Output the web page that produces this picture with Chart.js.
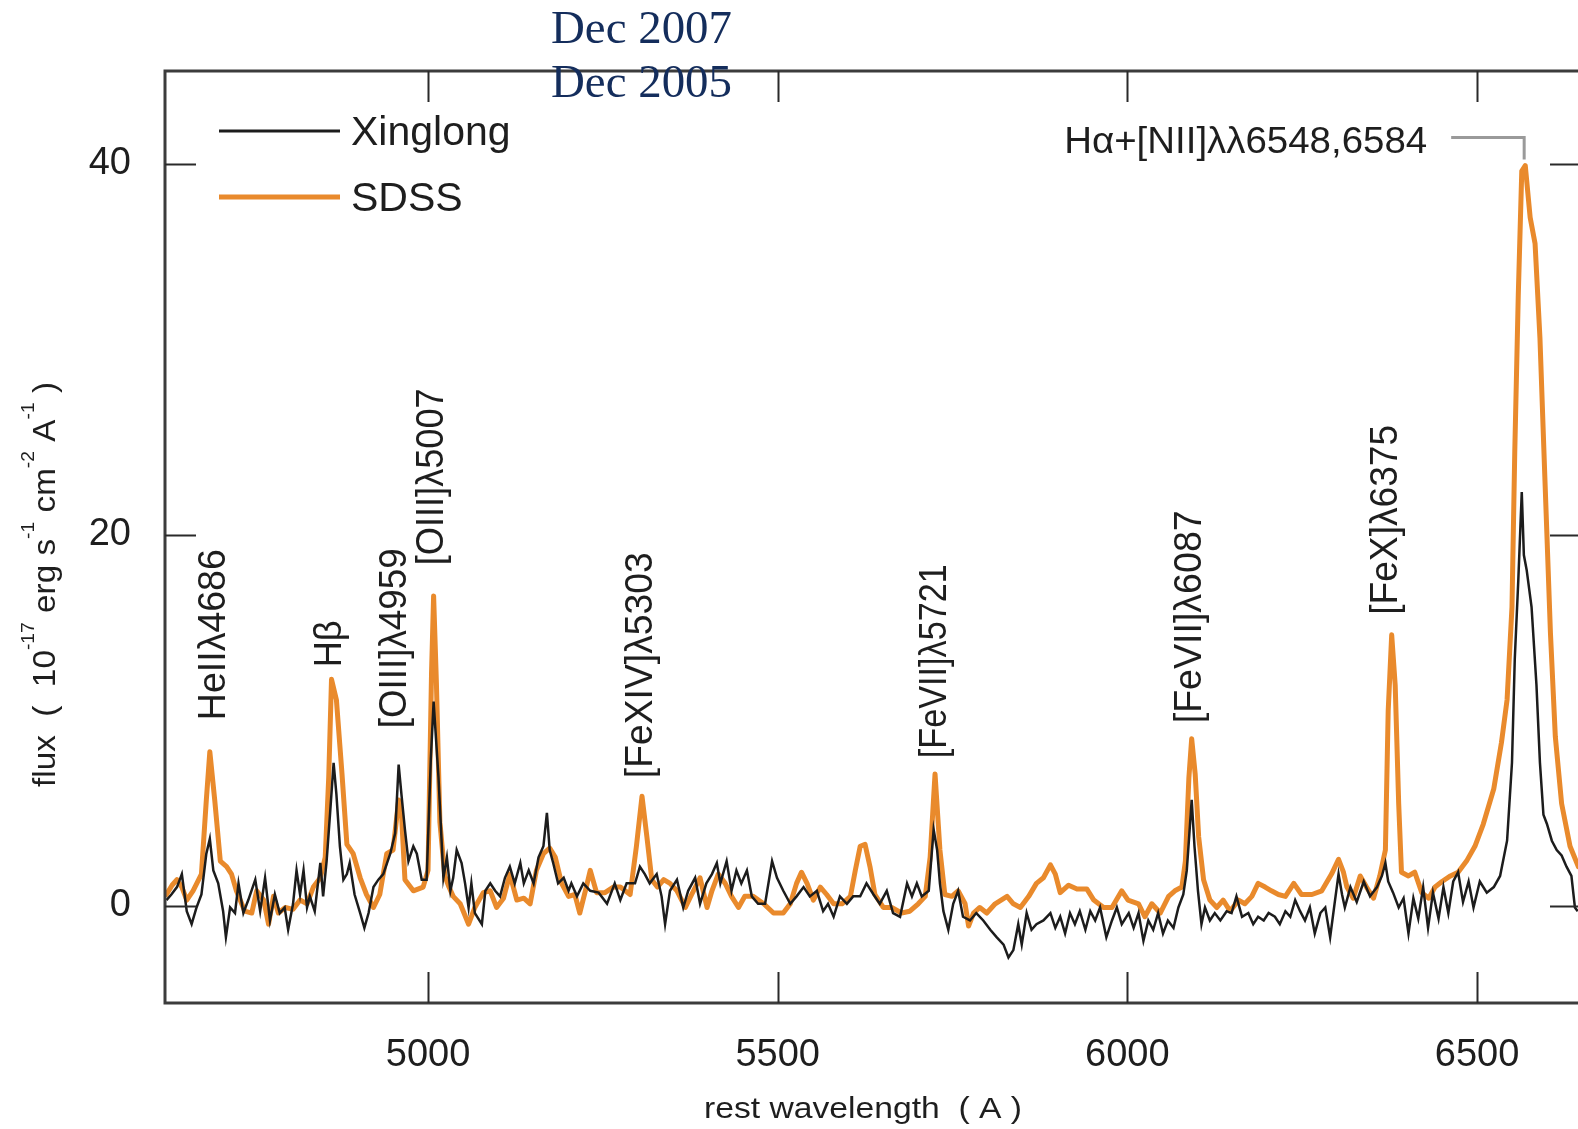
<!DOCTYPE html>
<html>
<head>
<meta charset="utf-8">
<script src="https://cdn.jsdelivr.net/npm/chart.js@4.4.1/dist/chart.umd.min.js"></script>
<style>
  html, body { margin: 0; padding: 0; overflow: hidden; background: #fff; }
  #wrap { position: absolute; left: 0; top: 0; width: 1600px; height: 1129px; }
</style>
</head>
<body>
<div id="wrap"><canvas id="spec" width="1600" height="1129"></canvas></div>
<script>
// ---- Spectra: rest wavelength (Å) and flux (1e-17 erg s^-1 cm^-2 Å^-1) ----
const sdssWave = [
  4626,4634,4641,4648,4655,4664,4676,4683,4688,4695,
  4703,4712,4719,4726,4738,4748,4755,4765,4772,4779,
  4786,4796,4807,4817,4827,4836,4846,4853,4858,4862,
  4869,4877,4884,4893,4903,4912,4922,4931,4941,4950,
  4958,4962,4967,4979,4993,5000,5005,5008,5012,5017,
  5024,5030,5036,5046,5058,5067,5079,5089,5098,5108,
  5117,5127,5137,5146,5155,5165,5174,5182,5191,5201,
  5210,5217,5225,5232,5241,5253,5265,5275,5289,5298,
  5306,5313,5320,5328,5337,5346,5356,5368,5377,5389,
  5399,5406,5415,5425,5434,5444,5453,5465,5480,5494,
  5508,5518,5527,5534,5542,5551,5561,5570,5580,5592,
  5604,5611,5618,5625,5632,5639,5651,5663,5677,5689,
  5701,5711,5718,5725,5732,5739,5749,5758,5768,5773,
  5780,5789,5799,5811,5828,5837,5847,5859,5870,5880,
  5890,5897,5904,5916,5928,5942,5952,5966,5978,5992,
  6001,6016,6025,6035,6047,6059,6068,6078,6083,6088,
  6092,6097,6102,6109,6118,6128,6137,6147,6159,6168,
  6178,6187,6197,6206,6216,6226,6238,6249,6264,6278,
  6292,6302,6309,6314,6323,6333,6342,6352,6361,6369,
  6373,6378,6383,6388,6392,6402,6411,6421,6431,6440,
  6450,6462,6473,6485,6497,6509,6524,6535,6543,6550,
  6554,6559,6564,6569,6576,6583,6590,6597,6605,6612,
  6621,6633,6645
];
const sdssFlux = [
  0.6,1.1,1.4,1.0,0.3,0.8,1.7,5.7,8.3,5.7,
  2.4,2.1,1.7,0.8,-0.3,-0.4,0.8,0.3,-1.0,0.5,
  -0.4,-0.1,-0.2,0.3,0.1,1.0,1.5,2.6,6.9,12.2,
  11.1,7.1,3.3,2.8,1.5,0.6,-0.1,0.6,2.8,3.0,
  5.7,5.0,1.4,0.8,1.0,1.9,12.5,16.7,12.0,4.5,
  1.6,1.0,0.5,0.1,-1.0,-0.1,0.7,0.8,-0.1,0.4,
  1.7,0.3,0.4,0.1,1.9,2.8,3.1,2.6,1.2,0.5,
  0.6,-0.4,0.8,1.9,0.7,0.7,1.0,1.0,0.6,3.2,
  5.9,3.7,1.4,1.0,1.4,1.2,0.8,-0.1,0.6,1.5,
  -0.1,0.8,1.7,1.2,0.5,-0.1,0.5,0.5,0.1,-0.4,
  -0.4,0.1,1.2,1.8,1.2,0.3,1.0,0.6,0.1,0.1,
  0.5,1.9,3.2,3.3,2.1,0.6,-0.1,-0.1,-0.4,-0.3,
  0.1,0.5,2.6,7.1,3.0,0.6,0.5,0.8,0.1,-1.1,
  -0.4,-0.1,-0.4,0.1,0.5,0.1,-0.1,0.5,1.2,1.5,
  2.2,1.7,0.7,1.1,0.9,0.9,0.3,-0.1,-0.1,0.8,
  0.3,0.1,-0.6,0.1,-0.4,0.5,0.8,1.0,2.4,6.9,
  9.0,7.1,3.7,1.4,0.3,-0.1,0.3,-0.3,0.3,0.1,
  0.5,1.2,1.0,0.8,0.6,0.5,1.2,0.6,0.6,0.8,
  1.7,2.5,1.8,1.0,0.4,1.6,1.0,0.4,1.6,3.0,
  10.5,14.6,11.9,5.5,1.8,1.6,1.8,0.7,0.4,1.0,
  1.3,1.6,1.8,2.4,3.2,4.4,6.3,8.8,11.1,16.1,
  24.5,32.9,39.6,39.9,37.1,35.7,30.6,23.1,14.7,9.1,
  5.5,3.2,2.1
];

const xinglongWave = [
  4626,4633,4641,4648,4655,4662,4669,4676,4683,4688,
  4693,4700,4707,4711,4717,4724,4729,4736,4743,4753,
  4760,4767,4774,4781,4788,4795,4800,4807,4812,4817,
  4822,4827,4831,4838,4846,4850,4855,4860,4865,4869,
  4874,4879,4884,4888,4895,4903,4909,4915,4922,4929,
  4936,4946,4953,4958,4962,4967,4972,4979,4984,4991,
  4998,5004,5008,5015,5022,5027,5032,5036,5041,5048,
  5053,5058,5062,5067,5077,5082,5089,5096,5103,5110,
  5117,5124,5132,5137,5144,5151,5158,5165,5170,5174,
  5179,5186,5194,5201,5205,5213,5222,5232,5244,5256,
  5267,5275,5284,5296,5303,5310,5317,5327,5334,5339,
  5346,5356,5365,5372,5382,5389,5398,5406,5413,5418,
  5427,5434,5441,5448,5456,5463,5472,5482,5492,5499,
  5508,5518,5527,5537,5546,5556,5565,5572,5580,5589,
  5599,5608,5618,5627,5637,5646,5656,5665,5675,5685,
  5692,5699,5706,5716,5723,5728,5732,5737,5744,5751,
  5758,5765,5775,5784,5794,5804,5813,5823,5830,5837,
  5844,5849,5856,5863,5870,5880,5890,5897,5904,5911,
  5918,5925,5932,5940,5947,5954,5961,5970,5978,5985,
  5992,6002,6009,6016,6023,6030,6037,6044,6051,6058,
  6066,6073,6080,6085,6088,6092,6096,6101,6106,6111,
  6118,6125,6133,6142,6149,6156,6164,6173,6180,6187,
  6195,6202,6211,6218,6226,6233,6240,6247,6254,6261,
  6268,6276,6283,6290,6297,6302,6307,6311,6319,6328,
  6338,6347,6357,6364,6369,6373,6380,6388,6395,6402,
  6409,6416,6423,6430,6437,6445,6452,6459,6466,6473,
  6480,6488,6495,6504,6514,6524,6533,6543,6550,6554,
  6559,6564,6567,6571,6578,6585,6590,6595,6600,6607,
  6614,6621,6628,6635,6640,6644
];
const xinglongFlux = [
  0.3,0.6,1.0,1.7,-0.3,-1.0,-0.1,0.6,2.8,3.6,
  1.9,1.2,-0.3,-1.7,-0.1,-0.4,1.2,-0.4,0.3,1.4,
  -0.3,1.5,-0.8,0.6,-0.4,-0.1,-1.3,0.1,1.9,0.6,
  1.9,-0.1,0.5,-0.3,2.3,0.5,2.4,5.0,7.7,6.0,
  3.2,1.4,1.7,2.3,0.6,-0.4,-1.2,-0.4,1.0,1.4,
  1.7,2.8,3.9,7.6,6.0,4.1,2.4,3.2,2.8,1.4,
  1.4,7.9,11.0,6.9,1.5,2.6,0.8,1.5,3.0,2.3,
  1.2,-0.1,1.2,-0.4,-1.0,0.8,1.2,0.8,0.5,1.5,
  2.1,1.2,2.3,1.2,1.9,1.2,2.6,3.2,5.0,3.0,
  2.3,1.2,1.5,0.8,1.2,0.5,1.2,0.8,0.7,0.1,
  1.2,0.3,1.2,1.2,2.1,1.7,1.2,1.7,0.5,-1.0,
  0.8,1.4,-0.1,0.8,1.5,0.1,1.2,1.7,2.3,1.2,
  2.4,0.8,1.9,1.2,1.9,0.5,0.1,0.1,2.4,1.5,
  0.8,0.1,0.5,1.0,0.5,0.8,-0.3,0.1,-0.6,0.5,
  0.1,0.5,0.5,1.2,0.6,0.1,0.8,-0.4,-0.6,1.2,
  0.5,1.2,0.5,0.8,4.1,3.0,1.2,-0.3,-1.3,0.1,
  0.8,-0.6,-0.8,-0.4,-0.8,-1.3,-1.7,-2.1,-2.8,-2.4,
  -1.0,-2.1,-0.4,-1.3,-1.0,-0.8,-0.4,-1.2,-0.6,-1.5,
  -0.4,-1.0,-0.3,-1.3,-0.3,-0.8,-0.1,-1.7,-0.8,-0.1,
  -1.0,-0.4,-1.2,-0.4,-1.9,-0.8,-1.3,-0.4,-1.5,-0.8,
  -1.2,-0.1,0.6,1.9,3.5,5.7,3.2,0.8,-1.0,-0.1,
  -0.8,-0.4,-0.8,-0.3,-0.4,0.5,-0.6,-0.4,-1.0,-0.6,
  -0.8,-0.4,-0.6,-1.0,-0.3,-0.6,0.3,-0.3,-0.8,-0.1,
  -1.5,-0.4,-0.1,-1.7,0.3,1.7,0.6,-0.1,1.0,0.2,
  1.3,0.5,1.0,1.6,2.3,1.3,0.7,-0.1,0.4,-1.5,
  0.4,-0.7,1.0,-1.2,0.7,-0.7,1.0,-0.4,1.3,1.8,
  0.2,1.3,-0.1,1.3,0.7,1.0,1.6,3.5,7.7,13.3,
  17.5,22.3,18.9,18.1,16.1,11.9,7.7,4.9,4.4,3.5,
  3.0,2.7,2.1,1.6,-0.1,-0.3
];

// ---- Axis ticks ----
const waveTicks = [5000, 5500, 6000, 6500];
const fluxTicks = [0, 20, 40];

// ---- Emission-line identifications (label centre wavelength, flux where the label starts) ----
const lineNames = ['HeIIλ4686', 'Hβ', '[OIII]λ4959', '[OIII]λ5007', '[FeXIV]λ5303', '[FeVII]λ5721', '[FeVII]λ6087', '[FeX]λ6375'];
const lineWaves = [4694, 4861, 4954, 5006, 5306, 5725, 6091, 6370];
const lineLabelFlux = [10.0, 12.85, 9.56, 18.35, 6.87, 7.95, 9.83, 15.68];
const haName = 'Hα+[NII]λλ6548,6584';
const haWave = 6566;
const haLabelFlux = 40.6;

const seriesNames = ['Xinglong', 'SDSS'];
const epochNames = ['Dec 2007', 'Dec 2005'];

// ---- Styling ----
const SANS = "'Liberation Sans', Arial, Helvetica, sans-serif";
const SERIF = "'Liberation Serif', 'Times New Roman', serif";
const INK = '#1e1e1e';
const ORANGE = '#e98a2c';
const TICK_LEN = 31;
const labelLengths = [171, 47, 180, 177, 226, 194, 213, 190];

function toPoints(w, f) { return w.map((v, i) => ({ x: v, y: f[i] })); }

function fitText(ctx, text, x, y, width, align) {
  const w = ctx.measureText(text).width;
  ctx.save();
  ctx.translate(x, y);
  ctx.scale(width / w, 1);
  ctx.textAlign = align;
  ctx.fillText(text, 0, 0);
  ctx.restore();
}

const decorPlugin = {
  id: 'spectrumDecor',
  afterDraw(chart) {
    const { ctx, chartArea: a, scales: { x, y } } = chart;
    ctx.save();

    // frame
    ctx.strokeStyle = '#3c3c3c';
    ctx.lineWidth = 3;
    ctx.strokeRect(a.left, a.top, a.right - a.left, a.bottom - a.top);

    // inward tick marks on all four sides
    ctx.lineWidth = 2;
    ctx.strokeStyle = '#2a2a2a';
    ctx.beginPath();
    x.ticks.forEach(t => {
      const px = Math.round(x.getPixelForValue(t.value)) + 0.5;
      ctx.moveTo(px, a.bottom); ctx.lineTo(px, a.bottom - TICK_LEN);
      ctx.moveTo(px, a.top); ctx.lineTo(px, a.top + TICK_LEN);
    });
    y.ticks.forEach(t => {
      const py = Math.round(y.getPixelForValue(t.value)) + 0.5;
      ctx.moveTo(a.left, py); ctx.lineTo(a.left + TICK_LEN, py);
      ctx.moveTo(a.right, py); ctx.lineTo(a.right - TICK_LEN, py);
    });
    ctx.stroke();

    // legend
    const ds = chart.data.datasets;
    const legY = [a.top + 60, a.top + 126];
    ds.forEach((d, i) => {
      ctx.strokeStyle = d.borderColor;
      ctx.lineWidth = i === 0 ? 3 : 5;
      ctx.beginPath();
      ctx.moveTo(a.left + 54, legY[i]);
      ctx.lineTo(a.left + 175, legY[i]);
      ctx.stroke();
      ctx.fillStyle = INK;
      ctx.font = '41px ' + SANS;
      ctx.textBaseline = 'middle';
      ctx.textAlign = 'left';
      ctx.fillText(d.label, a.left + 186, legY[i] + 3);
    });

    // rotated line identifications
    ctx.fillStyle = INK;
    ctx.font = '38px ' + SANS;
    ctx.textBaseline = 'middle';
    lineNames.forEach((name, i) => {
      const px = x.getPixelForValue(lineWaves[i]);
      const py = y.getPixelForValue(lineLabelFlux[i]);
      ctx.save();
      ctx.translate(px, py);
      ctx.rotate(-Math.PI / 2);
      fitText(ctx, name, 0, 0, labelLengths[i], 'left');
      ctx.restore();
    });

    // H-alpha blend label with its leader
    const haX = x.getPixelForValue(haWave);
    const haY = y.getPixelForValue(haLabelFlux);
    ctx.font = '37px ' + SANS;
    ctx.textBaseline = 'alphabetic';
    fitText(ctx, haName, haX - 96, haY, 363, 'right');
    ctx.strokeStyle = '#9a9a9a';
    ctx.lineWidth = 3;
    ctx.beginPath();
    ctx.moveTo(haX - 72, haY - 15);
    ctx.lineTo(haX + 1, haY - 15);
    ctx.lineTo(haX + 1, haY + 7);
    ctx.stroke();

    // x-axis title
    ctx.fillStyle = INK;
    ctx.font = '30px ' + SANS;
    ctx.textBaseline = 'alphabetic';
    fitText(ctx, 'rest wavelength  ( A )', 704, 1118, 318, 'left');

    // y-axis title with superscripts
    const segs = [['flux  (  10', 0], ['-17', 1], [' erg s', 0], ['-1', 1], [' cm', 0], ['-2', 1], [' A', 0], ['-1', 1], [' )', 0]];
    const baseSize = 31, supSize = 18;
    let total = 0;
    const widths = segs.map(([t, s]) => {
      ctx.font = (s ? supSize : baseSize) + 'px ' + SANS;
      const w = ctx.measureText(t).width;
      total += w;
      return w;
    });
    const yBottom = 787, yTop = 382, baseX = 55;
    ctx.save();
    ctx.translate(baseX, yBottom);
    ctx.rotate(-Math.PI / 2);
    ctx.scale((yBottom - yTop) / total, 1);
    ctx.textAlign = 'left';
    let pos = 0;
    segs.forEach(([t, s], i) => {
      ctx.font = (s ? supSize : baseSize) + 'px ' + SANS;
      ctx.fillText(t, pos, s ? -21 : 0);
      pos += widths[i];
    });
    ctx.restore();

    // observation epochs
    ctx.fillStyle = '#142d5c';
    ctx.font = '46px ' + SERIF;
    fitText(ctx, epochNames[0], 551, 43, 181, 'left');
    fitText(ctx, epochNames[1], 551, 97, 181, 'left');

    ctx.restore();
  }
};

new Chart(document.getElementById('spec'), {
  type: 'line',
  data: {
    datasets: [
      {
        label: seriesNames[0],
        data: toPoints(xinglongWave, xinglongFlux),
        borderColor: '#1c1c1c',
        borderWidth: 2.5,
        pointRadius: 0,
        tension: 0,
        fill: false
      },
      {
        label: seriesNames[1],
        data: toPoints(sdssWave, sdssFlux),
        borderColor: ORANGE,
        borderWidth: 5,
        pointRadius: 0,
        tension: 0,
        fill: false,
        borderJoinStyle: 'round',
        borderCapStyle: 'round'
      }
    ]
  },
  options: {
    responsive: false,
    devicePixelRatio: 1,
    animation: false,
    parsing: false,
    layout: { padding: { top: 71, right: 19, left: 0, bottom: 0 } },
    plugins: { legend: { display: false }, tooltip: { enabled: false } },
    scales: {
      x: {
        type: 'linear',
        min: 4623.9,
        max: 6648.7,
        afterBuildTicks: s => { s.ticks = waveTicks.map(v => ({ value: v })); },
        afterFit: s => { s.height = 126; },
        grid: { display: false, drawTicks: false },
        border: { display: false },
        ticks: {
          color: INK, padding: 30, maxRotation: 0, autoSkip: false,
          font: { family: SANS, size: 38 },
          callback: v => String(v)
        }
      },
      y: {
        type: 'linear',
        min: -5.25,
        max: 45,
        afterBuildTicks: s => { s.ticks = fluxTicks.map(v => ({ value: v })); },
        afterFit: s => { s.width = 165; },
        grid: { display: false, drawTicks: false },
        border: { display: false },
        ticks: {
          color: INK, padding: 34, autoSkip: false,
          font: { family: SANS, size: 38 },
          callback: v => String(v)
        }
      }
    }
  },
  plugins: [decorPlugin]
});
</script>
</body>
</html>
